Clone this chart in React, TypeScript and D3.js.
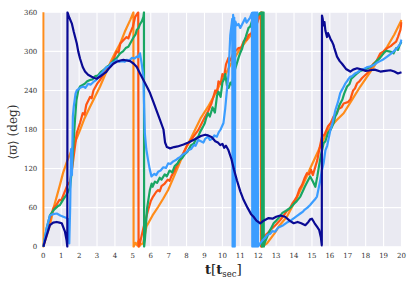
import * as d3 from "d3";

type Pt = [number, number];

// time ticks and angle ticks
const xTicks = d3.range(0, 21);
const yTicks = [0, 60, 120, 180, 240, 300, 360];

// series, [t, angle]; the vertical jumps are the 360 -> 0 wraps
const orange: Pt[] = [
  [0, 360], [0, 0], [0.37, 33], [0.6, 62], [0.93, 95], [1.1, 113], [1.31, 130], [1.6, 150],
  [1.87, 167], [2.05, 179], [2.3, 197], [2.61, 215], [2.9, 231], [3.17, 246], [3.45, 264],
  [3.73, 282], [4.0, 297], [4.29, 312], [4.55, 330], [4.85, 348], [5.03, 360], [5.04, 0],
  [5.15, 6], [5.25, 2], [5.3, 8], [5.35, 0], [5.45, 4], [5.57, 5], [5.76, 31], [6.1, 48],
  [6.41, 61], [6.7, 74], [6.97, 87], [7.25, 105], [7.53, 123], [7.8, 141], [8.0, 154],
  [8.25, 167], [8.46, 179], [8.8, 198], [9.2, 215], [9.5, 230], [9.8, 246], [10.16, 264],
  [10.5, 282], [10.9, 300], [11.3, 315], [11.65, 327], [11.9, 342], [12.11, 356], [12.2, 360],
  [12.21, 0], [12.49, 5], [12.9, 20], [13.2, 33], [13.6, 46], [14.1, 72], [14.53, 97],
  [14.9, 120], [15.37, 148], [15.7, 168], [16.03, 184], [16.4, 195], [16.77, 205], [17.2, 224],
  [17.7, 246], [18.1, 262], [18.45, 276], [18.8, 292], [19.2, 307], [19.6, 326], [20, 348],
];

const orangered: Pt[] = [
  [0, 0], [0.2, 25], [0.4, 45], [0.56, 59], [0.75, 65], [0.9, 72], [1.0, 71], [1.12, 79],
  [1.25, 88], [1.35, 95], [1.49, 100], [1.6, 118], [1.75, 150], [1.87, 175], [2.05, 190],
  [2.2, 205], [2.3, 203], [2.4, 218], [2.61, 230], [2.7, 228], [2.8, 240], [3.0, 250],
  [3.17, 256], [3.3, 262], [3.4, 268], [3.6, 275], [3.75, 280], [3.91, 287], [4.1, 300],
  [4.2, 298], [4.3, 312], [4.47, 317], [4.65, 322], [4.75, 320], [4.85, 328], [5.0, 338],
  [5.13, 353], [5.3, 360], [5.32, 0], [5.39, 5], [5.6, 30], [5.85, 56], [6.0, 70], [6.13, 77],
  [6.3, 84], [6.41, 87], [6.5, 85], [6.6, 93], [6.78, 97], [6.95, 103], [7.05, 101],
  [7.15, 108], [7.35, 118], [7.53, 128], [7.75, 140], [8.0, 154], [8.3, 166], [8.65, 179],
  [9.04, 200], [9.2, 208], [9.39, 220], [9.6, 240], [9.7, 236], [9.78, 254], [9.9, 250],
  [10.0, 265], [10.1, 262], [10.2, 280], [10.34, 290], [10.45, 286], [10.6, 297], [10.75, 301],
  [10.9, 305], [11.05, 306], [11.2, 316], [11.35, 318], [11.46, 325], [11.6, 327], [11.75, 336],
  [11.9, 340], [12.02, 351], [12.15, 360], [12.16, 0], [12.3, 15], [12.5, 20], [12.7, 26],
  [13.0, 34], [13.23, 41], [13.4, 47], [13.6, 55], [13.75, 58], [13.9, 66], [14.05, 72],
  [14.16, 77], [14.3, 88], [14.45, 95], [14.6, 106], [14.72, 113], [14.85, 111], [14.95, 118],
  [15.05, 110], [15.19, 123], [15.3, 133], [15.4, 148], [15.56, 169], [15.7, 172], [15.9, 185],
  [16.05, 190], [16.21, 200], [16.35, 204], [16.5, 212], [16.65, 214], [16.77, 220],
  [17.0, 222], [17.14, 226], [17.3, 240], [17.4, 243], [17.52, 251], [17.65, 254], [17.8, 259],
  [18.07, 266], [18.25, 272], [18.4, 280], [18.6, 285], [18.82, 297], [19.0, 300], [19.2, 305],
  [19.4, 308], [19.56, 312], [19.7, 315], [19.8, 322], [19.94, 333], [20, 345],
];

const green: Pt[] = [
  [0, 0], [0.2, 30], [0.37, 48], [0.6, 57], [0.8, 62], [0.93, 64], [1.1, 72], [1.3, 80],
  [1.49, 90], [1.6, 120], [1.7, 165], [1.77, 195], [1.85, 225], [1.95, 240], [2.05, 246],
  [2.3, 250], [2.45, 254], [2.61, 256], [2.75, 257], [2.9, 262], [3.05, 263], [3.2, 268],
  [3.35, 271], [3.54, 276], [3.7, 279], [3.9, 285], [4.1, 290], [4.29, 297], [4.45, 300],
  [4.6, 305], [4.75, 307], [4.85, 312], [5.05, 322], [5.15, 326], [5.22, 333], [5.32, 336],
  [5.4, 342], [5.5, 346], [5.59, 353], [5.62, 360], [5.63, 0], [5.67, 10], [5.8, 60],
  [5.95, 87], [6.05, 97], [6.1, 92], [6.23, 100], [6.35, 98], [6.5, 106], [6.6, 103],
  [6.78, 111], [6.9, 108], [7.05, 117], [7.2, 114], [7.34, 124], [7.5, 128], [7.6, 133],
  [7.75, 136], [7.9, 142], [8.05, 146], [8.25, 156], [8.4, 158], [8.55, 167], [8.65, 169],
  [8.75, 176], [8.85, 181], [8.95, 186], [9.02, 190], [9.1, 198], [9.2, 205], [9.3, 200],
  [9.45, 214], [9.58, 206], [9.7, 232], [9.78, 238], [9.9, 230], [10.0, 252], [10.1, 258],
  [10.16, 265], [10.25, 248], [10.35, 244], [10.45, 252], [10.53, 249], [10.62, 262],
  [10.7, 272], [10.9, 290], [11.0, 298], [11.1, 304], [11.2, 315], [11.3, 322], [11.46, 336],
  [11.55, 338], [11.65, 346], [11.9, 353], [12.11, 359], [12.2, 360], [12.21, 0], [12.24, 360],
  [12.27, 0], [12.3, 360], [12.31, 0], [12.35, 5], [12.6, 22], [12.75, 30], [12.86, 36],
  [13.0, 40], [13.2, 46], [13.35, 52], [13.6, 56], [13.8, 60], [14.0, 66], [14.15, 70],
  [14.35, 77], [14.5, 86], [14.6, 92], [14.75, 100], [14.9, 108], [15.05, 100], [15.19, 92],
  [15.3, 108], [15.4, 125], [15.5, 140], [15.65, 159], [15.75, 162], [15.9, 175], [16.05, 180],
  [16.21, 190], [16.3, 200], [16.4, 205], [16.5, 215], [16.58, 220], [16.7, 226], [16.8, 235],
  [16.96, 246], [17.1, 250], [17.2, 258], [17.35, 262], [17.52, 266], [17.7, 270], [17.9, 272],
  [18.1, 274], [18.26, 276], [18.45, 280], [18.6, 285], [18.8, 290], [19.0, 297], [19.15, 301],
  [19.3, 300], [19.45, 299], [19.56, 297], [19.7, 305], [19.8, 302], [19.9, 310], [20, 315],
];

const blue: Pt[] = [
  [0, 0], [0.2, 30], [0.37, 48], [0.55, 50], [0.75, 51], [0.95, 48], [1.12, 46], [1.3, 44],
  [1.4, 42], [1.45, 5], [1.5, 60], [1.55, 150], [1.6, 110], [1.65, 200], [1.7, 215], [1.8, 235],
  [1.87, 240], [2.05, 244], [2.24, 246], [2.35, 244], [2.5, 250], [2.65, 249], [2.8, 253],
  [2.95, 256], [3.1, 262], [3.3, 268], [3.54, 276], [3.65, 276], [3.8, 282], [3.95, 283],
  [4.1, 287], [4.25, 284], [4.4, 285], [4.55, 284], [4.66, 287], [4.8, 286], [4.95, 290],
  [5.1, 289], [5.22, 292], [5.3, 291], [5.4, 297], [5.5, 280], [5.59, 261], [5.62, 225],
  [5.67, 174], [5.75, 150], [5.85, 133], [5.95, 118], [6.04, 108], [6.2, 112], [6.3, 110],
  [6.41, 115], [6.55, 117], [6.7, 122], [6.85, 121], [6.97, 128], [7.1, 127], [7.25, 131],
  [7.4, 133], [7.53, 136], [7.65, 138], [7.8, 142], [7.95, 144], [8.09, 148], [8.25, 150],
  [8.4, 156], [8.5, 155], [8.65, 164], [8.8, 162], [8.94, 160], [9.05, 166], [9.2, 169],
  [9.3, 164], [9.45, 166], [9.55, 171], [9.69, 169], [9.8, 176], [9.9, 180], [10.06, 190],
  [10.16, 213], [10.25, 240], [10.34, 264], [10.44, 325], [10.55, 350], [10.57, 0], [10.6, 356],
  [10.63, 0], [10.66, 352], [10.69, 0], [10.72, 346], [10.8, 340], [10.9, 342], [11.0, 336],
  [11.09, 341], [11.18, 346], [11.27, 351], [11.35, 344], [11.45, 348], [11.55, 352],
  [11.65, 359], [11.67, 0], [11.71, 360], [11.75, 0], [11.79, 360], [11.83, 0], [11.87, 360],
  [11.91, 0], [11.95, 360], [11.99, 0], [12.11, 5], [12.25, 10], [12.4, 14], [12.5, 18],
  [12.67, 20], [12.8, 24], [12.95, 23], [13.1, 29], [13.25, 31], [13.4, 33], [13.6, 37],
  [13.75, 39], [13.9, 42], [14.0, 44], [14.15, 47], [14.35, 51], [14.5, 54], [14.6, 57],
  [14.75, 60], [14.9, 64], [15.05, 69], [15.15, 72], [15.28, 77], [15.45, 100], [15.56, 118],
  [15.65, 128], [15.75, 148], [15.85, 155], [16.03, 179], [16.15, 190], [16.31, 210],
  [16.45, 222], [16.58, 236], [16.7, 242], [16.85, 250], [17.0, 256], [17.14, 261], [17.25, 262],
  [17.4, 266], [17.55, 268], [17.7, 271], [17.9, 273], [18.1, 276], [18.3, 277], [18.45, 279],
  [18.6, 282], [18.8, 285], [19.0, 288], [19.2, 292], [19.4, 296], [19.56, 300], [19.75, 305],
  [19.94, 312], [20, 318],
];

const navy: Pt[] = [
  [0, 0], [0.15, 14], [0.37, 33], [0.55, 37], [0.75, 38], [0.9, 37], [1.03, 36], [1.21, 23],
  [1.3, 10], [1.34, 0], [1.35, 360], [1.45, 352], [1.59, 343], [1.7, 330], [1.87, 312],
  [1.95, 300], [2.05, 289], [2.2, 276], [2.33, 269], [2.5, 264], [2.7, 261], [2.85, 259],
  [2.98, 258], [3.15, 261], [3.35, 265], [3.5, 268], [3.7, 275], [3.91, 281], [4.1, 284],
  [4.3, 286], [4.47, 287], [4.65, 286], [4.85, 285], [5.05, 281], [5.22, 276], [5.4, 266],
  [5.59, 256], [5.8, 245], [5.96, 236], [6.15, 222], [6.34, 208], [6.5, 196], [6.71, 180],
  [6.8, 160], [6.9, 153], [7.08, 151], [7.3, 153], [7.5, 154], [7.83, 157], [8.1, 160],
  [8.38, 164], [8.6, 167], [8.8, 170], [9.04, 172], [9.2, 171], [9.41, 168], [9.6, 162],
  [9.75, 160], [9.88, 156], [10.0, 158], [10.1, 152], [10.2, 155], [10.34, 148], [10.5, 135],
  [10.65, 118], [10.81, 102], [11.0, 85], [11.18, 72], [11.4, 60], [11.6, 50], [11.74, 46],
  [11.9, 40], [12.11, 36], [12.3, 40], [12.58, 44], [12.8, 43], [13.0, 46], [13.23, 48],
  [13.5, 46], [13.75, 40], [13.98, 36], [14.2, 38], [14.4, 36], [14.63, 33], [14.8, 38],
  [14.9, 42], [15.0, 43], [15.15, 36], [15.3, 30], [15.4, 26], [15.5, 14], [15.55, 2],
  [15.56, 355], [15.6, 350], [15.65, 340], [15.7, 345], [15.75, 332], [15.84, 322],
  [15.9, 328], [15.95, 325], [16.05, 318], [16.12, 315], [16.2, 310], [16.25, 305], [16.4, 292],
  [16.55, 285], [16.68, 281], [16.9, 273], [17.14, 269], [17.3, 272], [17.52, 274], [17.8, 272],
  [18.0, 270], [18.26, 271], [18.5, 272], [18.82, 269], [19.1, 270], [19.38, 271], [19.6, 269],
  [19.8, 266], [20, 268],
];

const series = [
  { data: orange, color: "#ff8c1a" },
  { data: orangered, color: "#ff5512" },
  { data: green, color: "#19a663" },
  { data: blue, color: "#3b9dff" },
  { data: navy, color: "#0a0a94" },
];

const W = 415;
const H = 286;
const margin = { left: 43.3, right: 13.5, top: 12.3, bottom: 39.3 };

export default function App() {
  const x = d3.scaleLinear().domain([0, 20]).range([margin.left, W - margin.right]);
  const y = d3.scaleLinear().domain([0, 360]).range([H - margin.bottom, margin.top]);
  const line = d3
    .line<Pt>()
    .x(d => x(d[0]))
    .y(d => y(d[1]));

  const tickFont = "'DejaVu Serif', serif";

  return (
    <div style={{ position: "absolute", left: 0, top: 0 }}>
      <svg width={W} height={H} style={{ display: "block", background: "#fff" }}>
        <rect
          x={x(0)}
          y={y(360)}
          width={x(20) - x(0)}
          height={y(0) - y(360)}
          fill="#eaeaf2"
        />
        {xTicks.map(t => (
          <line key={"gx" + t} x1={x(t)} x2={x(t)} y1={y(0)} y2={y(360)} stroke="#fff" strokeWidth={1.1} />
        ))}
        {yTicks.map(v => (
          <line key={"gy" + v} x1={x(0)} x2={x(20)} y1={y(v)} y2={y(v)} stroke="#fff" strokeWidth={1.1} />
        ))}
        <clipPath id="plot">
          <rect x={x(0) - 1} y={y(360) - 1} width={x(20) - x(0) + 2} height={y(0) - y(360) + 2} />
        </clipPath>
        <g clipPath="url(#plot)">
          {series.map((s, i) => (
            <path
              key={i}
              d={line(s.data) ?? ""}
              fill="none"
              stroke={s.color}
              strokeWidth={2.2}
              strokeLinejoin="round"
            />
          ))}
        </g>
        {xTicks.map(t => (
          <text
            key={"tx" + t}
            x={x(t)}
            y={y(0) + 11.5}
            fontSize={7}
            fontFamily={tickFont}
            fill="#333"
            textAnchor="middle"
          >
            {t}
          </text>
        ))}
        {yTicks.map(v => (
          <text
            key={"ty" + v}
            x={x(0) - 6}
            y={y(v) + 2.5}
            fontSize={7}
            fontFamily={tickFont}
            fill="#333"
            textAnchor="end"
          >
            {v}
          </text>
        ))}
        <text x={205} y={274} fontFamily={tickFont} fill="#222" fontSize={13}>
          <tspan fontWeight="bold">t</tspan>
          <tspan fontSize={13.5}>[</tspan>
          <tspan fontWeight="bold">t</tspan>
          <tspan fontSize={8.5} dy={3}>sec</tspan>
          <tspan fontSize={13.5} dy={-3}>]</tspan>
        </text>
        <text
          transform={`translate(17, ${132}) rotate(-90)`}
          textAnchor="middle"
          fontFamily={tickFont}
          fill="#333"
          fontSize={12}
        >
          {"⟨ϖ⟩ (deg)"}
        </text>
      </svg>
    </div>
  );
}
